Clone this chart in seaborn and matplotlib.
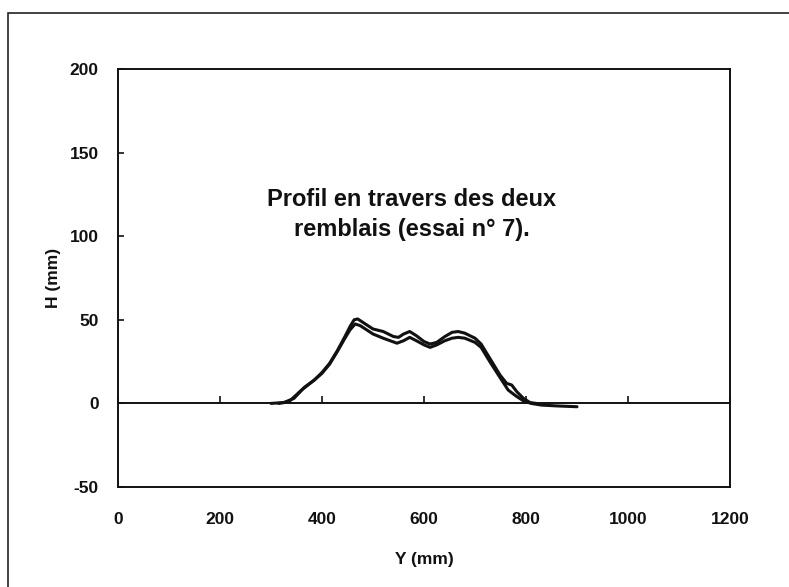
import matplotlib
matplotlib.use("Agg")
import matplotlib.pyplot as plt
from matplotlib.patches import Rectangle
import numpy as np
import pandas as pd
import seaborn as sns

# Profil 1 (upper trace)
y_mm_1 = [300, 325, 345, 365, 385, 400, 415, 430, 445, 455, 463, 470, 480, 500,
          520, 540, 550, 560, 572, 585, 600, 612, 625, 641, 655, 667, 680, 700,
          712, 729, 749, 762, 772, 782, 795, 808, 820]
h_mm_1 = [0, 0.5, 3, 9.5, 14, 18.5, 24, 31.5, 40, 46, 50, 50.5, 48.5, 44.5,
          43, 40, 39.5, 41.5, 43, 40.5, 37, 35.5, 36.5, 40, 42.5, 43, 42, 39,
          35.5, 27, 17, 12, 11, 7, 3, 0.5, 0]

# Profil 2 (lower trace)
y_mm_2 = [315, 335, 360, 385, 400, 415, 430, 445, 455, 465, 475, 500, 520, 547,
          560, 572, 585, 600, 612, 625, 641, 655, 667, 680, 700, 712, 729, 749,
          765, 780, 795, 810, 830, 860, 900]
h_mm_2 = [0, 1, 8, 14, 18, 23.5, 31, 39, 44, 47.5, 46.5, 41.5, 39, 36,
          37.5, 39.5, 37.5, 35, 33.5, 35, 37.5, 39, 39.5, 39, 36.5, 33.5, 25, 15.5,
          8, 4.5, 1.5, 0, -1, -1.5, -2]

x_ticks = [0, 200, 400, 600, 800, 1000, 1200]
y_ticks = [-50, 0, 50, 100, 150, 200]
note = "Profil en travers des deux\nremblais (essai n° 7)."

df = pd.concat([
    pd.DataFrame({"Y": y_mm_1, "H": h_mm_1, "profil": "1"}),
    pd.DataFrame({"Y": y_mm_2, "H": h_mm_2, "profil": "2"}),
], ignore_index=True)

sns.set_style("white")
plt.rcParams["font.family"] = ["Liberation Sans", "DejaVu Sans"]

fig = plt.figure(figsize=(7.89, 5.87), dpi=100)
ax = fig.add_axes([118 / 789, 1 - 487 / 587, 612 / 789, 418 / 587])

sns.lineplot(data=df, x="Y", y="H", hue="profil", units="profil",
             estimator=None, sort=False, palette=["#111111", "#111111"],
             linewidth=2.2, legend=False, ax=ax)

ax.set_xlim(0, 1200)
ax.set_ylim(-50, 200)
ax.set_xticks(x_ticks)
ax.set_yticks(y_ticks)
ax.set_xticklabels([str(v) for v in x_ticks])
ax.set_yticklabels([str(v) for v in y_ticks])

for s in ax.spines.values():
    s.set_visible(True)
    s.set_color("#111111")
    s.set_linewidth(1.4)

ax.tick_params(axis="x", length=0, pad=18, labelsize=12.5, colors="#111111")
ax.tick_params(axis="y", direction="in", length=4, width=1.2, pad=14,
               labelsize=12.5, colors="#111111", left=True)
for lab in ax.get_xticklabels() + ax.get_yticklabels():
    lab.set_fontweight("bold")

# zero line carrying the x ticks
zero_ax = ax.secondary_xaxis(0.2)
zero_ax.set_xticks(x_ticks)
zero_ax.tick_params(axis="x", direction="in", length=5, width=1.2,
                    labelbottom=False, colors="#111111")
zero_ax.spines["bottom"].set_linewidth(1.4)
zero_ax.spines["bottom"].set_color("#111111")

ax.set_xlabel("Y (mm)", fontsize=12.5, fontweight="bold", labelpad=18,
              color="#111111")
ax.set_ylabel("H (mm)", fontsize=12.5, fontweight="bold", labelpad=6,
              color="#111111")

ax.text(576, 113, note, ha="center", va="center", multialignment="center",
        fontsize=17, fontweight="bold", linespacing=1.35, color="#111111")

# outer frame of the figure
fig.patches.append(Rectangle((8 / 789, -0.05), 1.1, 1 - 13 / 587 + 0.05,
                             transform=fig.transFigure, fill=False,
                             edgecolor="#222222", linewidth=1.2))

fig.savefig("out.png", dpi=100)
